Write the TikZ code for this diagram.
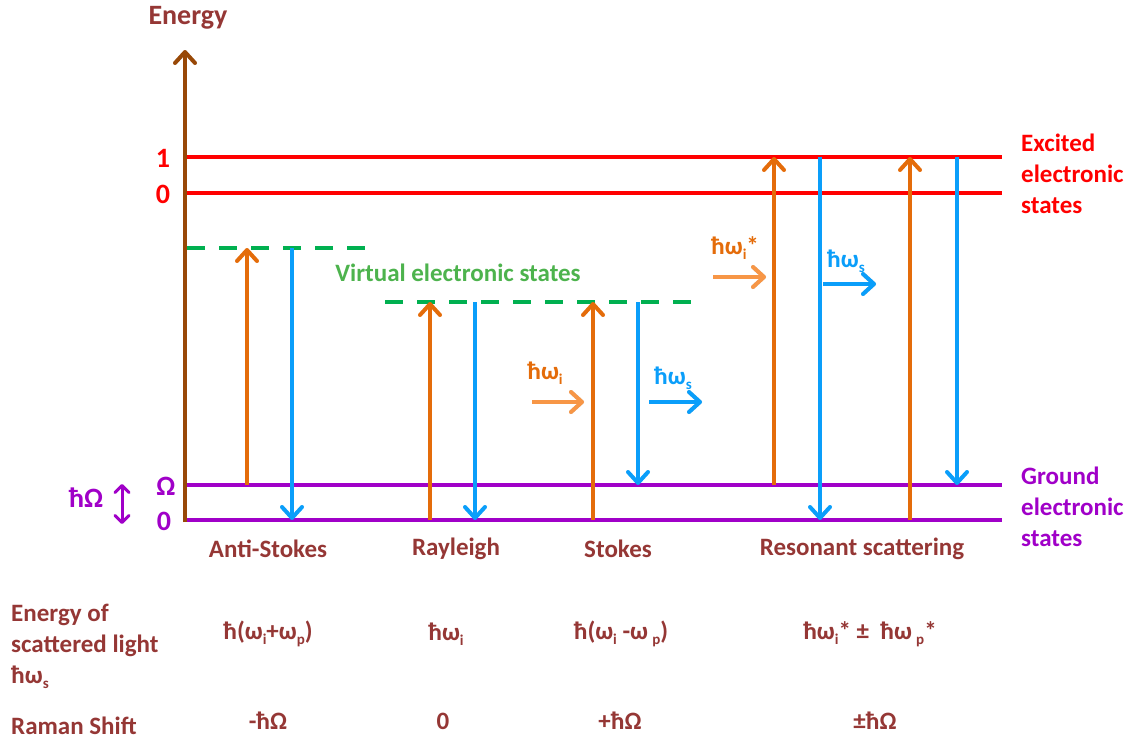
\documentclass[tikz,border=0pt]{standalone}
\usepackage{fontspec}
\setmainfont{Carlito}
\usetikzlibrary{arrows.meta}

\definecolor{txtbrown}{HTML}{953735}
\definecolor{axisbrown}{HTML}{984807}
\definecolor{exred}{HTML}{FF0000}
\definecolor{gpurple}{HTML}{A000C8}
\definecolor{vgreen}{HTML}{00B050}
\definecolor{vtext}{HTML}{4DB34D}
\definecolor{orgdark}{HTML}{E46C0A}
\definecolor{orglight}{HTML}{F79646}
\definecolor{skyblue}{HTML}{0A9EFA}

\newcommand\sbx[1]{\raisebox{-0.4ex}{\fontsize{15}{15}\selectfont #1}}

\tikzset{
  txt/.style={font=\fontsize{25}{31}\selectfont\bfseries, inner sep=0pt, align=left},
  bigtxt/.style={txt, font=\fontsize{28}{31}\selectfont\bfseries},
  barb/.style={-{Straight Barb[length=11pt,width=20pt,round]}},
  level/.style={line width=4pt},
  exlevel/.style={level, draw=exred},
  gnlevel/.style={level, draw=gpurple},
  virt/.style={line width=4pt, draw=vgreen, dash pattern=on 18pt off 14pt},
  absorb/.style={barb, line width=4pt, draw=orgdark},
  emit/.style={barb, line width=4pt, draw=skyblue},
  inbeam/.style={barb, line width=4pt, draw=orglight},
  outbeam/.style={barb, line width=4pt, draw=skyblue},
  shade/.style={barb, line width=4pt, draw=black, opacity=0.18},
}

\begin{document}
\begin{tikzpicture}[x=1pt,y=-1pt]
\useasboundingbox (0,0) rectangle (1131,745);

% energy axis
\coordinate (ax0) at (185,522);
\coordinate (ax1) at (185,50);
\draw[barb, line width=4pt, draw=axisbrown] (ax0) -- (ax1);
\node[bigtxt, text=txtbrown] (energy) at (188,18) {Energy};

% electronic levels
\coordinate (e1a) at (187,157); \coordinate (e1b) at (1002,157);
\coordinate (e0a) at (187,193); \coordinate (e0b) at (1002,193);
\coordinate (g1a) at (187,485); \coordinate (g1b) at (1002,485);
\coordinate (g0a) at (187,520); \coordinate (g0b) at (1002,520);
\draw[exlevel] (e1a) -- (e1b);
\draw[exlevel] (e0a) -- (e0b);
\draw[gnlevel] (g1a) -- (g1b);
\draw[gnlevel] (g0a) -- (g0b);

\node[bigtxt, text=exred] (lab e1) at (163,158) {1};
\node[bigtxt, text=exred] (lab e0) at (163,194) {0};
\node[bigtxt, text=gpurple] (lab g1) at (166,486) {Ω};
\node[bigtxt, text=gpurple] (lab g0) at (164,521) {0};
\node[bigtxt, text=gpurple] (hbarO) at (86,498) {ħΩ};
\coordinate (dA) at (122,484);
\coordinate (dB) at (122,524);
\draw[{Straight Barb[length=7pt,width=14pt,round]}-{Straight Barb[length=7pt,width=14pt,round]}, line width=3pt, draw=gpurple] (dA) -- (dB);

\node[txt, text=exred, anchor=west] (exc) at (1021,174) {Excited\\electronic\\states};
\node[txt, text=gpurple, anchor=west] (gnd) at (1021,507) {Ground\\electronic\\states};

% virtual levels
\coordinate (v1a) at (187,248); \coordinate (v1b) at (368,248);
\coordinate (v2a) at (385,302); \coordinate (v2b) at (698,302);
\draw[virt] (v1a) -- (v1b);
\draw[virt] (v2a) -- (v2b);
\node[txt, text=vtext] (virtlab) at (458,273) {Virtual electronic states};

% Anti-Stokes
\coordinate (as1) at (247,485); \coordinate (as2) at (247,248);
\coordinate (as3) at (292,248); \coordinate (as4) at (292,520);
\draw[absorb] (as1) -- (as2);
\draw[emit] (as3) -- (as4);
% Rayleigh
\coordinate (ra1) at (430,520); \coordinate (ra2) at (430,302);
\coordinate (ra3) at (475,302); \coordinate (ra4) at (475,520);
\draw[absorb] (ra1) -- (ra2);
\draw[emit] (ra3) -- (ra4);
% Stokes
\coordinate (st1) at (593,520); \coordinate (st2) at (593,302);
\coordinate (st3) at (638,302); \coordinate (st4) at (638,485);
\draw[absorb] (st1) -- (st2);
\draw[emit] (st3) -- (st4);
% Resonant scattering
\coordinate (rs1) at (774,485); \coordinate (rs2) at (774,157);
\coordinate (rs3) at (820,157); \coordinate (rs4) at (820,520);
\coordinate (rs5) at (910,520); \coordinate (rs6) at (910,157);
\coordinate (rs7) at (957,157); \coordinate (rs8) at (957,485);
\draw[absorb] (rs1) -- (rs2);
\draw[emit] (rs3) -- (rs4);
\draw[absorb] (rs5) -- (rs6);
\draw[emit] (rs7) -- (rs8);

% incident and scattered photons
\coordinate (pi1) at (532,402); \coordinate (pi2) at (584,402);
\coordinate (ps1) at (649,402); \coordinate (ps2) at (702,402);
\coordinate (ri1) at (713,277); \coordinate (ri2) at (766,277);
\coordinate (rso1) at (823,284); \coordinate (rso2) at (876,284);
\begin{scope}[shift={(2,3)}]
  \draw[shade] (pi1) -- (pi2);
  \draw[shade] (ps1) -- (ps2);
  \draw[shade] (ri1) -- (ri2);
  \draw[shade] (rso1) -- (rso2);
\end{scope}
\draw[inbeam] (pi1) -- (pi2);
\draw[outbeam] (ps1) -- (ps2);
\draw[inbeam] (ri1) -- (ri2);
\draw[outbeam] (rso1) -- (rso2);
\node[txt, text=orgdark] (wi) at (545,373) {ħω\sbx{i}};
\node[txt, text=skyblue] (ws) at (673,378) {ħω\sbx{s}};
\node[txt, text=orgdark] (wir) at (735,248) {ħω\sbx{i}*};
\node[txt, text=skyblue] (wsr) at (846,261) {ħω\sbx{s}};

% process names
\node[txt, text=txtbrown] (nAS) at (268,549) {Anti-Stokes};
\node[txt, text=txtbrown] (nRa) at (456,549) {Rayleigh};
\node[txt, text=txtbrown] (nSt) at (618,549) {Stokes};
\node[txt, text=txtbrown] (nRe) at (862,549) {Resonant scattering};

% table of scattered energies and shifts
\node[txt, text=txtbrown, anchor=west] (rowE) at (11,646) {Energy of\\scattered light\\ħω\sbx{s}};
\node[txt, text=txtbrown] (eAS) at (268,634) {ħ(ω\sbx{i}+ω\sbx{p})};
\node[txt, text=txtbrown] (eRa) at (446,634) {ħω\sbx{i}};
\node[txt, text=txtbrown] (eSt) at (621,634) {ħ(ω\sbx{i} -ω\,\sbx{p})};
\node[txt, text=txtbrown] (eRe) at (870,634) {ħω\sbx{i}* ±\ \ ħω\,\sbx{p}*};

\node[txt, text=txtbrown, anchor=west] (rowR) at (11,726) {Raman Shift};
\node[txt, text=txtbrown] (rAS) at (268,721) {-ħΩ};
\node[txt, text=txtbrown] (rRa) at (443,721) {0};
\node[txt, text=txtbrown] (rSt) at (620,721) {+ħΩ};
\node[txt, text=txtbrown] (rRe) at (875,721) {±ħΩ};
\end{tikzpicture}
\end{document}
